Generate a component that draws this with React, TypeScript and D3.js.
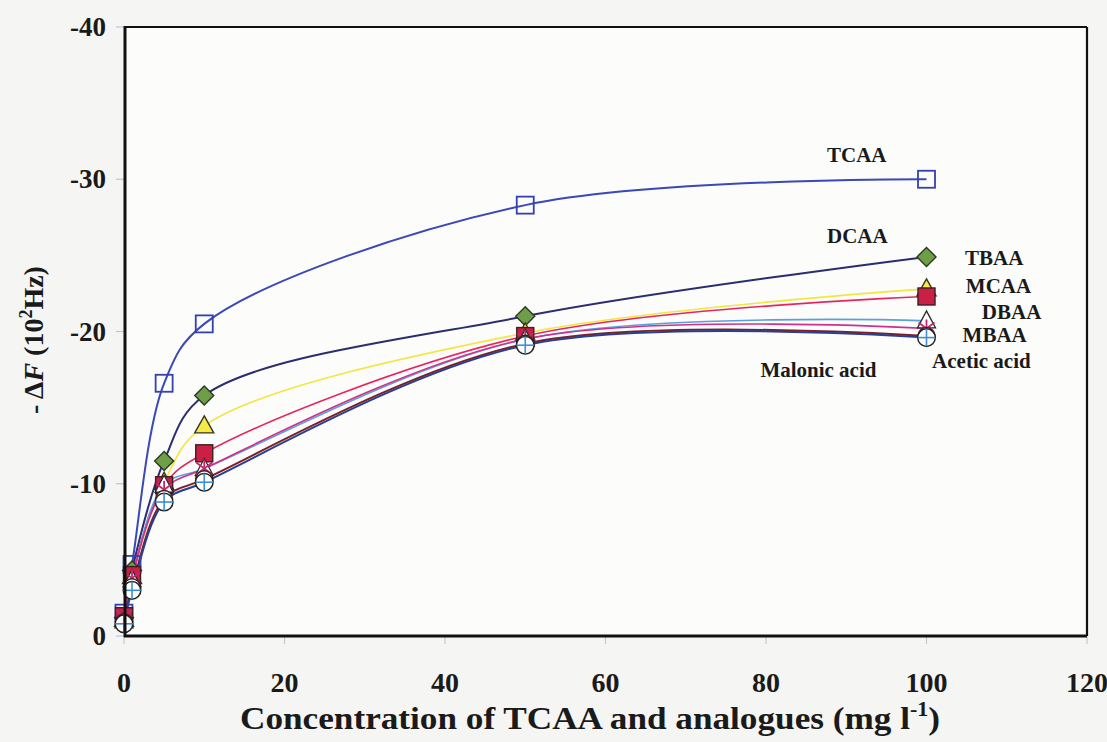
import React from "react";
import * as d3 from "d3";

const xValues = [0, 1, 5, 10, 50, 100];
const seriesNames = ["TCAA", "TBAA", "MCAA", "DBAA", "MBAA", "DCAA", "Malonic acid", "Acetic acid"];
const tcaa = [-1.5, -4.7, -16.6, -20.5, -28.3, -30.0];
const tbaa = [-1.2, -4.3, -11.5, -15.8, -21.0, -24.9];
const mcaa = [-1.1, -3.9, -10.1, -13.8, -19.9, -22.8];
const dbaa = [-1.3, -4.0, -9.9, -12.0, -19.7, -22.3];
const mbaa = [-1.0, -3.7, -9.9, -11.0, -19.5, -20.7];
const dcaa = [-1.3, -3.8, -9.6, -11.0, -19.5, -20.2];
const malonic = [-0.9, -3.2, -9.0, -10.3, -19.2, -19.7];
const acetic = [-0.8, -3.0, -8.8, -10.1, -19.1, -19.6];
const seriesValues = [tcaa, tbaa, mcaa, dbaa, mbaa, dcaa, malonic, acetic];

const xTicks = [0, 20, 40, 60, 80, 100, 120];
const yTicks = [0, -10, -20, -30, -40];

// annotation labels: text, data x, data y
const labelTexts = ["TCAA", "DCAA", "TBAA", "MCAA", "DBAA", "MBAA", "Acetic acid", "Malonic acid"];
const labelX = [87.6, 87.6, 104.8, 104.9, 106.9, 104.5, 100.7, 79.3];
const labelY = [-31.13, -25.84, -24.37, -22.53, -20.85, -19.31, -17.6, -17.01];

const styles = [
  { line: "#3a48b8", w: 2, marker: "openSquare", stroke: "#3340b0", fill: "none" },
  { line: "#2b2d6e", w: 2, marker: "diamond", stroke: "#2a3a20", fill: "#6f9e48" },
  { line: "#f2e640", w: 1.6, marker: "triangle", stroke: "#3a3320", fill: "#f4ea48" },
  { line: "#e8245e", w: 1.6, marker: "square", stroke: "#3a2020", fill: "#cc1f45" },
  { line: "#5aa0dc", w: 1.6, marker: "openTriangle", stroke: "#2a2a2a", fill: "#ffffff" },
  { line: "#d0308a", w: 1.6, marker: "star", stroke: "#c2286e", fill: "none" },
  { line: "#7b1f2a", w: 2, marker: "circle", stroke: "#3a2020", fill: "#ffffff" },
  { line: "#2a3f8f", w: 2, marker: "circlePlus", stroke: "#222222", fill: "#ffffff" },
];

const FONT = "'Liberation Serif', 'Times New Roman', serif";

function Marker({ kind, cx, cy, stroke, fill }: any) {
  const s = 8.5;
  switch (kind) {
    case "openSquare":
      return <rect x={cx - s} y={cy - s} width={2 * s} height={2 * s} fill="none" stroke={stroke} strokeWidth={1.8} />;
    case "square":
      return <rect x={cx - s} y={cy - s} width={2 * s} height={2 * s} fill={fill} stroke={stroke} strokeWidth={1.4} />;
    case "diamond":
      return <path d={`M${cx},${cy - 9.5}L${cx + 9.5},${cy}L${cx},${cy + 9.5}L${cx - 9.5},${cy}Z`} fill={fill} stroke={stroke} strokeWidth={1.4} />;
    case "triangle":
      return <path d={`M${cx},${cy - 10}L${cx + 9.5},${cy + 7}L${cx - 9.5},${cy + 7}Z`} fill={fill} stroke={stroke} strokeWidth={1.4} />;
    case "openTriangle":
      return <path d={`M${cx},${cy - 10}L${cx + 9},${cy + 7}L${cx - 9},${cy + 7}Z`} fill={fill} stroke={stroke} strokeWidth={1.3} />;
    case "star":
      return (
        <g stroke={stroke} strokeWidth={1.8}>
          <line x1={cx - 8} y1={cy - 6} x2={cx + 8} y2={cy + 6} />
          <line x1={cx - 8} y1={cy + 6} x2={cx + 8} y2={cy - 6} />
          <line x1={cx} y1={cy - 9} x2={cx} y2={cy + 9} />
        </g>
      );
    case "circle":
      return <circle cx={cx} cy={cy} r={8.5} fill={fill} stroke={stroke} strokeWidth={1.4} />;
    case "circlePlus":
      return (
        <g>
          <circle cx={cx} cy={cy} r={8.8} fill={fill} stroke={stroke} strokeWidth={1.5} />
          <line x1={cx - 8.8} y1={cy} x2={cx + 8.8} y2={cy} stroke="#3f8fd0" strokeWidth={1.6} />
          <line x1={cx} y1={cy - 8.8} x2={cx} y2={cy + 8.8} stroke="#3f8fd0" strokeWidth={1.6} />
        </g>
      );
    default:
      return null;
  }
}

export default function App() {
  const W = 1107;
  const H = 742;
  const x = d3.scaleLinear().domain([0, 120]).range([124, 1087]);
  const y = d3.scaleLinear().domain([0, -40]).range([636, 27]);
  const line = d3
    .line<number>()
    .x((_, i) => x(xValues[i]))
    .y((v) => y(v))
    .curve(d3.curveCatmullRom.alpha(0.5));

  return (
    <svg width={W} height={H} style={{ position: "absolute", left: 0, top: 0, background: "#f5f5f3" }}>
      <rect x={0} y={0} width={W} height={H} fill="#f5f5f3" />
      <rect x={x(0)} y={y(-40)} width={x(120) - x(0)} height={y(0) - y(-40)} fill="#fcfcfb" />

      {/* ticks */}
      {yTicks.map((t) => (
        <line key={"yt" + t} x1={x(0) - 8} x2={x(0)} y1={y(t)} y2={y(t)} stroke="#b8c4dc" strokeWidth={1.2} />
      ))}
      {xTicks.map((t) => (
        <line key={"xt" + t} x1={x(t)} x2={x(t)} y1={y(0)} y2={y(0) + 8} stroke="#c8c8c8" strokeWidth={1.2} />
      ))}

      {/* series lines */}
      {seriesValues.map((vals, i) => (
        <path key={"l" + i} d={line(vals) || ""} fill="none" stroke={styles[i].line} strokeWidth={styles[i].w} />
      ))}

      {/* markers */}
      {seriesValues.map((vals, i) => (
        <g key={"m" + i}>
          {vals.map((v, j) => (
            <Marker key={j} kind={styles[i].marker} cx={x(xValues[j])} cy={y(v)} stroke={styles[i].stroke} fill={styles[i].fill} />
          ))}
        </g>
      ))}

      {/* frame */}
      <line x1={x(0)} x2={x(120)} y1={y(-40)} y2={y(-40)} stroke="#111" strokeWidth={2.2} />
      <line x1={x(120)} x2={x(120)} y1={y(-40)} y2={y(0)} stroke="#111" strokeWidth={2.2} />
      <line x1={x(0) + 1} x2={x(0) + 1} y1={y(-40) - 1} y2={y(0) + 1} stroke="#111" strokeWidth={3} />
      <line x1={x(0)} x2={x(120)} y1={y(0)} y2={y(0)} stroke="#111" strokeWidth={3} />

      {/* tick labels */}
      {yTicks.map((t) => (
        <text key={"yl" + t} x={x(0) - 18} y={y(t) + 9} textAnchor="end" fontFamily={FONT} fontWeight="bold" fontSize={27} fill="#1a1a1a">
          {t === 0 ? "0" : String(t)}
        </text>
      ))}
      {xTicks.map((t) => (
        <text key={"xl" + t} x={x(t)} y={692} textAnchor="middle" fontFamily={FONT} fontWeight="bold" fontSize={28} fill="#1a1a1a">
          {t}
        </text>
      ))}

      {/* axis titles */}
      <text transform="translate(590,729) scale(1.1,1)" textAnchor="middle" fontFamily={FONT} fontWeight="bold" fontSize={32} fill="#1a1a1a">
        Concentration of TCAA and analogues (mg l
        <tspan dy={-13} fontSize={20}>-1</tspan>
        <tspan dy={13}>)</tspan>
      </text>
      <text transform="translate(43,340) rotate(-90)" textAnchor="middle" fontFamily={FONT} fontWeight="bold" fontSize={28} fill="#1a1a1a">
        - Δ<tspan fontStyle="italic">F</tspan> (10<tspan dy={-11} fontSize={18}>2</tspan>
        <tspan dy={11}>Hz)</tspan>
      </text>

      {/* series labels */}
      {labelTexts.map((t, i) => (
        <text key={"lab" + i} x={x(labelX[i])} y={y(labelY[i])} fontFamily={FONT} fontWeight="bold" fontSize={21} fill="#1a1a1a">
          {t}
        </text>
      ))}
      {seriesNames.length > 0 ? null : null}
    </svg>
  );
}
